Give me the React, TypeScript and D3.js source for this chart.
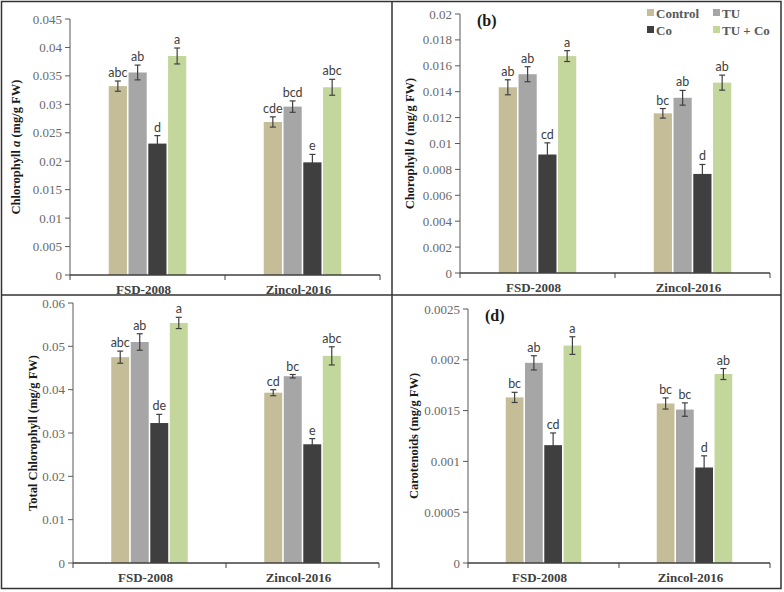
import * as d3 from "d3";

const groups = ["FSD-2008", "Zincol-2016"];
const series = ["Control", "TU", "Co", "TU + Co"];
const colors = ["#c4bd97", "#a6a6a6", "#3f3f3f", "#c3d69b"];

// chlorophyll a
const chlA = [
  [0.0332, 0.0356, 0.0231, 0.0385],
  [0.0269, 0.0296, 0.0198, 0.033],
];
const chlAErr = [
  [0.0009, 0.0013, 0.0014, 0.0014],
  [0.0009, 0.001, 0.0014, 0.0014],
];
const chlALetters = [
  ["abc", "ab", "d", "a"],
  ["cde", "bcd", "e", "abc"],
];
const chlATicks = [0, 0.005, 0.01, 0.015, 0.02, 0.025, 0.03, 0.035, 0.04, 0.045];

// chlorophyll b
const chlB = [
  [0.01434, 0.01535, 0.00915, 0.01675],
  [0.01233, 0.01353, 0.00765, 0.0147],
];
const chlBErr = [
  [0.00058, 0.00058, 0.0009, 0.00042],
  [0.00037, 0.00057, 0.00073, 0.00058],
];
const chlBLetters = [
  ["ab", "ab", "cd", "a"],
  ["bc", "ab", "d", "ab"],
];
const chlBTicks = [0, 0.002, 0.004, 0.006, 0.008, 0.01, 0.012, 0.014, 0.016, 0.018, 0.02];

// total chlorophyll
const chlT = [
  [0.0475, 0.051, 0.0323, 0.0554],
  [0.0393, 0.0431, 0.0274, 0.0478],
];
const chlTErr = [
  [0.0014, 0.0019, 0.002, 0.0013],
  [0.0007, 0.0004, 0.0013, 0.0021],
];
const chlTLetters = [
  ["abc", "ab", "de", "a"],
  ["cd", "bc", "e", "abc"],
];
const chlTTicks = [0, 0.01, 0.02, 0.03, 0.04, 0.05, 0.06];

// carotenoids
const caro = [
  [0.00163, 0.00197, 0.00116, 0.00214],
  [0.00157, 0.00151, 0.00094, 0.00186],
];
const caroErr = [
  [0.00005, 0.00007, 0.00012, 0.000087],
  [0.000055, 0.000066, 0.000115, 0.000054],
];
const caroLetters = [
  ["bc", "ab", "cd", "a"],
  ["bc", "bc", "d", "ab"],
];
const caroTicks = [0, 0.0005, 0.001, 0.0015, 0.002, 0.0025];

const serif = "'Liberation Serif', 'Times New Roman', serif";
const sans = "Lato, 'Liberation Sans', sans-serif";
const fmt = (v: number) => String(parseFloat(v.toFixed(6)));

type PanelProps = {
  x0: number;
  x1: number;
  yTop: number;
  yBot: number;
  values: number[][];
  errs: number[][];
  letters: string[][];
  ticks: number[];
  titleX: number;
  title: React.ReactNode;
  tag?: string;
};

function Panel(p: PanelProps) {
  const max = p.ticks[p.ticks.length - 1];
  const y = d3.scaleLinear().domain([0, max]).range([p.yBot, p.yTop]);
  const x = d3.scaleBand().domain(groups).range([p.x0, p.x1]).paddingInner(0.5).paddingOuter(0.25);
  const inner = d3.scaleBand().domain(series).range([0, x.bandwidth()]).paddingInner(0.08);
  const band = (p.x1 - p.x0) / groups.length;
  const axisColor = "#595959";
  return (
    <g>
      {/* bars */}
      {groups.map((g, gi) =>
        series.map((s, si) => {
          const v = p.values[gi][si];
          const e = p.errs[gi][si];
          const bx = (x(g) ?? 0) + (inner(s) ?? 0);
          const cx = bx + inner.bandwidth() / 2;
          return (
            <g key={g + s}>
              <rect x={bx} y={y(v)} width={inner.bandwidth()} height={p.yBot - y(v)} fill={colors[si]} />
              <line x1={cx} x2={cx} y1={y(v + e)} y2={y(v - e)} stroke="#404040" strokeWidth={1.2} />
              <line x1={cx - 3} x2={cx + 3} y1={y(v + e)} y2={y(v + e)} stroke="#404040" strokeWidth={1.2} />
              <line x1={cx - 3} x2={cx + 3} y1={y(v - e)} y2={y(v - e)} stroke="#404040" strokeWidth={1.2} />
              <text x={cx} y={y(v + e) - 4} textAnchor="middle" fontFamily={sans} fontSize={12.5} fill="#404040">
                {p.letters[gi][si]}
              </text>
            </g>
          );
        })
      )}
      {/* y axis */}
      <line x1={p.x0} x2={p.x0} y1={p.yTop} y2={p.yBot} stroke={axisColor} strokeWidth={1} />
      {p.ticks.map((t) => (
        <g key={t}>
          <line x1={p.x0 - 5} x2={p.x0} y1={y(t)} y2={y(t)} stroke={axisColor} strokeWidth={1} />
          <text x={p.x0 - 8} y={y(t)} dy="0.35em" textAnchor="end" fontFamily={serif} fontSize={13} fill="#6a6a6a">
            {fmt(t)}
          </text>
        </g>
      ))}
      {/* x axis */}
      <line x1={p.x0} x2={p.x1} y1={p.yBot} y2={p.yBot} stroke="#404040" strokeWidth={1.5} />
      {[0, 1, 2].map((i) => (
        <line key={i} x1={p.x0 + i * band} x2={p.x0 + i * band} y1={p.yBot} y2={p.yBot + 5} stroke="#404040" strokeWidth={1} />
      ))}
      {groups.map((g) => (
        <text key={g} x={(x(g) ?? 0) + x.bandwidth() / 2 - 4} y={p.yBot + 19} textAnchor="middle" fontFamily={serif} fontWeight="bold" fontSize={13} fill="#404040">
          {g}
        </text>
      ))}
      {/* y title */}
      <text
        transform={`translate(${p.titleX},${(p.yTop + p.yBot) / 2}) rotate(-90)`}
        textAnchor="middle"
        fontFamily={serif}
        fontWeight="bold"
        fontSize={12.5}
        fill="#1a1a1a"
      >
        {p.title}
      </text>
      {p.tag && (
        <text x={p.x0 + 17} y={p.yTop + 12} fontFamily={serif} fontWeight="bold" fontSize={16} fill="#1a1a1a">
          {p.tag}
        </text>
      )}
    </g>
  );
}

export default function App() {
  return (
    <svg width={784} height={592} style={{ display: "block", position: "absolute", left: 0, top: 0, background: "#fff" }}>
      <rect x={0} y={0} width={784} height={592} fill="#fff" />
      <Panel
        x0={70}
        x1={380}
        yTop={19}
        yBot={275}
        values={chlA}
        errs={chlAErr}
        letters={chlALetters}
        ticks={chlATicks}
        titleX={20}
        title={
          <>
            Chlorophyll <tspan fontStyle="italic">a</tspan> (mg/g FW)
          </>
        }
      />
      <Panel
        x0={460}
        x1={770}
        yTop={14}
        yBot={273}
        values={chlB}
        errs={chlBErr}
        letters={chlBLetters}
        ticks={chlBTicks}
        titleX={414}
        tag="(b)"
        title={
          <>
            Chorophyll <tspan fontStyle="italic">b</tspan> (mg/g FW)
          </>
        }
      />
      <Panel
        x0={73}
        x1={379}
        yTop={303}
        yBot={563}
        values={chlT}
        errs={chlTErr}
        letters={chlTLetters}
        ticks={chlTTicks}
        titleX={37}
        title={<>Total Chlorophyll  (mg/g FW)</>}
      />
      <Panel
        x0={468}
        x1={770}
        yTop={309}
        yBot={563}
        values={caro}
        errs={caroErr}
        letters={caroLetters}
        ticks={caroTicks}
        titleX={418}
        tag="(d)"
        title={<>Carotenoids  (mg/g FW)</>}
      />
      {/* legend */}
      {series.map((s, i) => {
        const lx = i % 2 === 0 ? 647 : 713;
        const ly = i < 2 ? 13 : 30;
        return (
          <g key={s}>
            <rect x={lx} y={ly - 4} width={7} height={7} fill={colors[i]} />
            <text x={lx + 9} y={ly} dy="0.35em" fontFamily={serif} fontWeight="bold" fontSize={13} fill="#595959">
              {s}
            </text>
          </g>
        );
      })}
      {/* frames */}
      <rect x={1.5} y={1.5} width={779.5} height={587} fill="none" stroke="#333" strokeWidth={1.5} />
      <line x1={392} x2={392} y1={1.5} y2={588.5} stroke="#333" strokeWidth={1.5} />
      <line x1={1.5} x2={781} y1={295} y2={295} stroke="#333" strokeWidth={1.5} />
    </svg>
  );
}
